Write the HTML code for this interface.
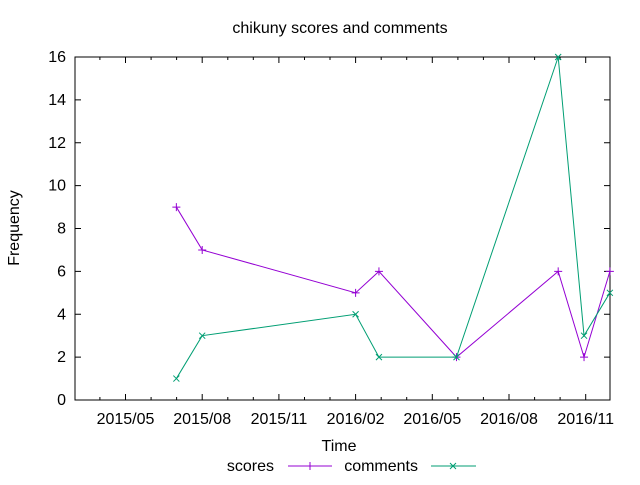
<!DOCTYPE html>
<html><head><meta charset="utf-8"><style>
body{margin:0;background:#fff}
text{font-family:"Liberation Sans",sans-serif;font-size:16px;fill:#000}
</style></head><body>
<svg id="chart" width="640" height="480" viewBox="0 0 640 480" xmlns="http://www.w3.org/2000/svg">
<rect width="640" height="480" fill="#fff"/>
<text x="340" y="33" text-anchor="middle">chikuny scores and comments</text>
<text x="339" y="451" text-anchor="middle">Time</text>
<text transform="translate(19,228) rotate(-90)" text-anchor="middle">Frequency</text>
<g id="axes"></g>
<g id="series"></g>
<g>
<text x="274" y="471" text-anchor="end">scores</text>
<line x1="288" y1="466" x2="332" y2="466" stroke="#9400d3"/>
<path d="M310,462V470M306,466H314" stroke="#9400d3"/>
<text x="418" y="471" text-anchor="end">comments</text>
<line x1="431" y1="466" x2="476" y2="466" stroke="#009e73"/>
<path d="M450,463L456,469M450,469L456,463" stroke="#009e73"/>
</g>
</svg>
<script>
const dates=["2015-07-01","2015-08-01","2016-02-01","2016-02-29","2016-06-01","2016-10-01","2016-11-01","2016-12-02"];
const scores=[9,7,5,6,2,6,2,6];
const comments=[1,3,4,2,2,16,3,5];
const yTicks=[0,2,4,6,8,10,12,14,16];
const xTickLabels=["2015/05","2015/08","2015/11","2016/02","2016/05","2016/08","2016/11"];
const NS="http://www.w3.org/2000/svg";
const L=75,R=610,T=57,B=400;
const base=Date.UTC(2015,4,1), DAY=86400000;
const pxPerDay=76.7/92;
function dayOf(s){const p=s.split("-");return (Date.UTC(+p[0],+p[1]-1,+p[2])-base)/DAY;}
function xs(d){return 125.5+d*pxPerDay;}
function ys(v){return B-(v/16)*(B-T);}
function mk(tag,attrs,parent){const e=document.createElementNS(NS,tag);for(const k in attrs)e.setAttribute(k,attrs[k]);parent.appendChild(e);return e;}
const ax=document.getElementById("axes");
mk("rect",{x:L,y:T,width:R-L,height:B-T,fill:"none",stroke:"#000"},ax);
yTicks.forEach(v=>{const y=ys(v);
mk("line",{x1:L,y1:y,x2:L+6,y2:y,stroke:"#000"},ax);
mk("line",{x1:R,y1:y,x2:R-6,y2:y,stroke:"#000"},ax);
const t=mk("text",{x:L-9,y:y+5,"text-anchor":"end"},ax);t.textContent=v;

});
xTickLabels.forEach((lab,i)=>{const x=xs(i*92);
mk("line",{x1:x,y1:B,x2:x,y2:B-6,stroke:"#000"},ax);
mk("line",{x1:x,y1:T,x2:x,y2:T+6,stroke:"#000"},ax);
for(const m of [-1,1]){const xm=xs(i*92+m*30.7);if(xm>L&&xm<R){mk("line",{x1:xm,y1:B,x2:xm,y2:B-3,stroke:"#000"},ax);mk("line",{x1:xm,y1:T,x2:xm,y2:T+3,stroke:"#000"},ax);}}
const t=mk("text",{x:x,y:B+24,"text-anchor":"middle"},ax);t.textContent=lab;

});
const sg=document.getElementById("series");
function draw(vals,color,marker,name){
const pts=dates.map((d,i)=>[xs(dayOf(d)),ys(vals[i])]);
const pl=mk("polyline",{points:pts.map(p=>p.join(",")).join(" "),fill:"none",stroke:color},sg);


pts.forEach(([x,y])=>{const d=marker==="plus"?`M${x},${y-4}V${y+4}M${x-4},${y}H${x+4}`:`M${x-3},${y-3}L${x+3},${y+3}M${x-3},${y+3}L${x+3},${y-3}`;
const p=mk("path",{d:d,stroke:color},sg);

});}
draw(scores,"#9400d3","plus","scores");
draw(comments,"#009e73","x","comments");
</script>
</body></html>
